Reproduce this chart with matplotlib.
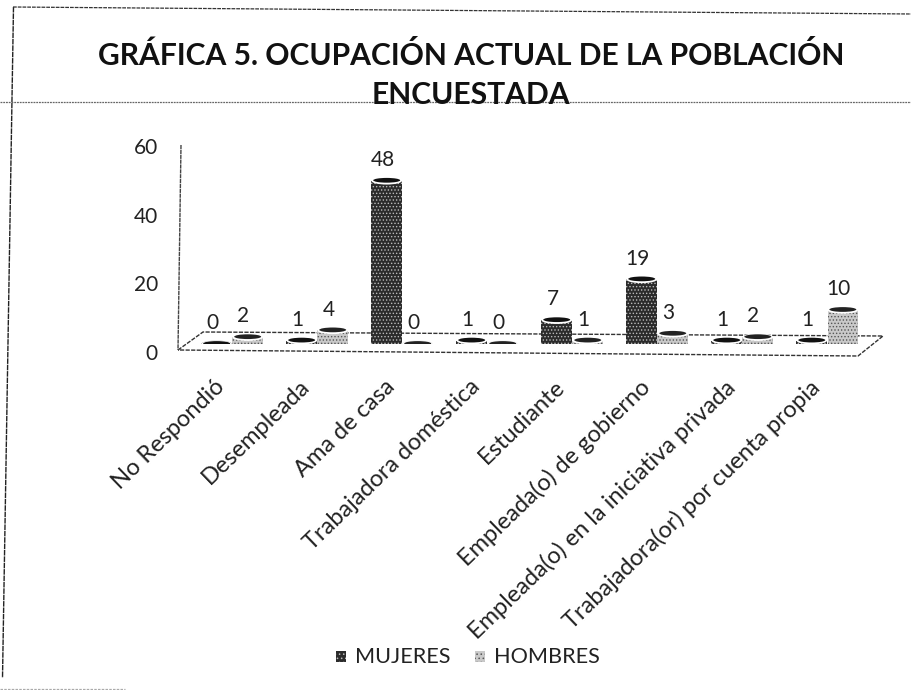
import matplotlib
matplotlib.use('Agg')
import matplotlib.pyplot as plt
from matplotlib.patches import Ellipse, Polygon, Rectangle

plt.rcParams['font.family'] = ['Lato', 'DejaVu Sans']
plt.rcParams['hatch.linewidth'] = 0.6

categorias = ['No Respondió', 'Desempleada', 'Ama de casa', 'Trabajadora doméstica', 'Estudiante',
              'Empleada(o) de gobierno', 'Empleada(o) en la iniciativa privada',
              'Trabajadora(or) por cuenta propia']
mujeres = [0, 1, 48, 1, 7, 19, 1, 1]
hombres = [2, 4, 0, 0, 1, 3, 2, 10]
y_ticks = [0, 20, 40, 60]

W, H = 912, 690
fig = plt.figure(figsize=(W / 100, H / 100), dpi=100)


def box(l, t, r, b):
    return [l / W, 1 - b / H, (r - l) / W, (b - t) / H]


def linea(x0, y0, x1, y1, **kw):
    fig.add_artist(plt.Line2D([x0 / W, x1 / W], [1 - y0 / H, 1 - y1 / H], **kw))


# hoja: marco y linea punteada del escaneo
linea(13.5, 7, 2.5, 678, color='#222222', lw=1, ls=(0, (4, 0.6)))
linea(13, 7, 912, 14, color='#333333', lw=0.9, ls=(0, (3, 0.8)))
linea(0, 102, 912, 102, color='#666666', lw=0.9, ls=(0, (1.5, 0.7)))
linea(0, 689, 125, 689, color='#aaaaaa', lw=0.9, ls=(0, (2, 1)))

fig.text(471 / W, 1 - 75 / H, 'GRÁFICA 5. OCUPACIÓN ACTUAL DE LA POBLACIÓN\nENCUESTADA', ha='center', va='center',
         fontsize=21.6, fontweight='bold', color='#111111', linespacing=1.52)

# pared y piso
wall = fig.add_axes(box(180, 146, 883, 352))
wall.set_ylim(0, 60)
wall.set_xlim(0, 1)
wall.set_yticks(y_ticks)
wall.tick_params(axis='y', length=0, labelsize=15, pad=16, labelcolor='#222222')
wall.set_xticks([])
for s in wall.spines.values():
    s.set_visible(False)
wall.patch.set_visible(False)
linea(181, 145, 178, 350, color='#444444', lw=1, ls=(0, (3, 0.5)))
floor = Polygon([(178 / W, 1 - 350 / H), (203 / W, 1 - 332 / H), (883 / W, 1 - 336 / H), (858 / W, 1 - 356 / H)],
                closed=True, fc='white', ec='#333333', lw=1.0, ls=(0, (3, 1)), transform=fig.transFigure,
                clip_on=False)
wall.add_patch(floor)

# barras
ax = fig.add_axes(box(175, 140, 890, 344))
ax.patch.set_visible(False)
ax.set_xlim(-0.49, 7.92)
ax.set_ylim(0, 60)
for s in ax.spines.values():
    s.set_visible(False)
ax.set_yticks([])
x = list(range(len(categorias)))
ancho = 0.36
sep = 0.365
xm = [i for i in x]
xh = [i + sep for i in x]
ax.bar(xm, mujeres, ancho, color='#2b2b2b', hatch='.....', edgecolor='#bbbbbb', lw=0, zorder=3)
ax.bar(xh, hombres, ancho, color='#c9c9c9', hatch='.....', edgecolor='#555555', lw=0, zorder=3)

for xs, vals, tapa, base_col in [(xm, mujeres, '#111111', '#2b2b2b'), (xh, hombres, '#222222', '#c9c9c9')]:
    for xi, v in zip(xs, vals):
        # base redonda y tapa del cilindro
        ax.add_patch(Ellipse((xi, 0), ancho, 2.0, fc=base_col, ec='none', zorder=2.5))
        ax.add_patch(Ellipse((xi, v), ancho, 2.2, fc='white', ec='none', zorder=4))
        ax.add_patch(Ellipse((xi, v + 0.15), ancho * 0.88, 1.4, fc=tapa, ec='none', zorder=5))
        ax.text(xi - 0.05, v + 3.2, str(v), ha='center', va='bottom', fontsize=15, color='#222222', zorder=6)

ax.set_xticks([i - 0.03 for i in x])
ax.set_xticklabels(categorias, rotation=44, ha='right', rotation_mode='anchor', fontsize=17, color='#222222')
ax.tick_params(axis='x', length=0, pad=23)

# leyenda
fig.add_artist(Rectangle((336 / W, 1 - 662 / H), 10 / W, 11 / H, fc='#2b2b2b', hatch='....', ec='#bbbbbb', lw=0,
                         transform=fig.transFigure))
fig.text(355 / W, 1 - 657 / H, 'MUJERES', va='center', fontsize=15.6, color='#222222')
fig.add_artist(Rectangle((475 / W, 1 - 662 / H), 10 / W, 11 / H, fc='#c9c9c9', hatch='....', ec='#555555', lw=0,
                         transform=fig.transFigure))
fig.text(494 / W, 1 - 657 / H, 'HOMBRES', va='center', fontsize=15.6, color='#222222')

plt.savefig('out.png', dpi=100)
